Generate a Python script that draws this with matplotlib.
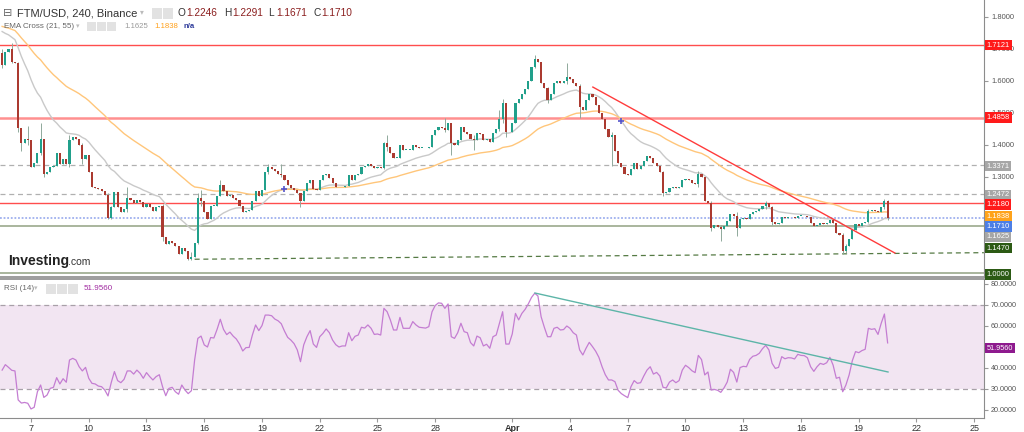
import numpy as np
import pandas as pd
import matplotlib
matplotlib.use('Agg')
import matplotlib.pyplot as plt
import matplotlib.dates as mdates
from matplotlib.patches import Rectangle
from matplotlib.ticker import FormatStrFormatter

plt.rcParams['font.family'] = ['Liberation Sans', 'DejaVu Sans']

# ---- data (4h candles, FTM/USD Binance) ----
start = '2022-03-05 12:00'
first_open = 1.688
closes = [
    1.650, 1.690, 1.700, 1.660, 1.655, 1.452, 1.405, 1.420, 1.415, 1.332,
    1.345, 1.375, 1.420, 1.310, 1.315, 1.330, 1.335, 1.375, 1.340, 1.355,
    1.340, 1.415, 1.425, 1.420, 1.400, 1.355, 1.370, 1.317, 1.270, 1.265,
    1.262, 1.255, 1.245, 1.172, 1.205, 1.254, 1.205, 1.190, 1.200, 1.235,
    1.228, 1.220, 1.228, 1.222, 1.205, 1.215, 1.205, 1.195, 1.205, 1.210,
    1.112, 1.090, 1.100, 1.095, 1.085, 1.060, 1.078, 1.068, 1.045, 1.050,
    1.095, 1.235, 1.225, 1.190, 1.170, 1.210, 1.210, 1.240, 1.275, 1.255,
    1.240, 1.245, 1.235, 1.228, 1.210, 1.190, 1.195, 1.197, 1.225, 1.255,
    1.240, 1.258, 1.315, 1.330, 1.325, 1.318, 1.310, 1.305, 1.290, 1.275,
    1.265, 1.260, 1.250, 1.225, 1.255, 1.280, 1.290, 1.262, 1.258, 1.290,
    1.305, 1.310, 1.297, 1.282, 1.270, 1.268, 1.270, 1.272, 1.305, 1.290,
    1.305, 1.310, 1.330, 1.335, 1.340, 1.335, 1.328, 1.330, 1.328, 1.405,
    1.395, 1.375, 1.360, 1.360, 1.400, 1.385, 1.385, 1.385, 1.400, 1.395,
    1.392, 1.392, 1.390, 1.393, 1.430, 1.447, 1.455, 1.453, 1.448, 1.470,
    1.405, 1.400, 1.415, 1.455, 1.440, 1.435, 1.420, 1.415, 1.437, 1.433,
    1.415, 1.418, 1.410, 1.437, 1.450, 1.480, 1.530, 1.440, 1.440, 1.470,
    1.530, 1.545, 1.560, 1.575, 1.600, 1.645, 1.668, 1.660, 1.595, 1.578,
    1.540, 1.560, 1.595, 1.600, 1.595, 1.600, 1.612, 1.605, 1.595, 1.585,
    1.520, 1.510, 1.540, 1.560, 1.550, 1.525, 1.500, 1.480, 1.450, 1.425,
    1.430, 1.380, 1.345, 1.330, 1.310, 1.305, 1.325, 1.345, 1.325, 1.335,
    1.350, 1.365, 1.360, 1.345, 1.335, 1.315, 1.250, 1.252, 1.265, 1.270,
    1.265, 1.270, 1.290, 1.295, 1.290, 1.282, 1.278, 1.310, 1.300, 1.225,
    1.220, 1.140, 1.150, 1.145, 1.138, 1.148, 1.162, 1.185, 1.178, 1.140,
    1.170, 1.172, 1.170, 1.185, 1.190, 1.195, 1.200, 1.210, 1.218, 1.205,
    1.160, 1.152, 1.155, 1.175, 1.172, 1.176, 1.174, 1.172, 1.178, 1.178,
    1.177, 1.175, 1.155, 1.147, 1.150, 1.155, 1.152, 1.157, 1.165, 1.155,
    1.125, 1.120, 1.070, 1.085, 1.105, 1.135, 1.152, 1.148, 1.155, 1.160,
    1.195, 1.198, 1.193, 1.190, 1.205, 1.2246, 1.1710,
]
# candles with visible wicks: index -> (high, low)
wicks = {
    0: (1.700, 1.640), 3: (1.720, 1.655), 5: (1.660, 1.440), 6: (1.450, 1.380),
    8: (1.460, 1.400), 12: (1.468, 1.370), 13: (1.420, 1.300), 21: (1.430, 1.330),
    25: (1.405, 1.340), 33: (1.250, 1.168), 34: (1.210, 1.168), 39: (1.270, 1.190),
    50: (1.215, 1.100), 58: (1.060, 1.040), 59: (1.065, 1.040), 61: (1.250, 1.090),
    62: (1.260, 1.210), 68: (1.290, 1.240), 83: (1.340, 1.310), 87: (1.340, 1.300),
    93: (1.250, 1.207), 119: (1.410, 1.325), 120: (1.430, 1.380), 138: (1.485, 1.440),
    140: (1.470, 1.370), 147: (1.430, 1.385), 155: (1.510, 1.445), 156: (1.545, 1.470),
    157: (1.530, 1.425), 166: (1.680, 1.640), 170: (1.580, 1.530), 176: (1.655, 1.590),
    180: (1.590, 1.484), 190: (1.440, 1.335), 206: (1.320, 1.240), 217: (1.320, 1.270),
    221: (1.225, 1.130), 224: (1.150, 1.100), 229: (1.190, 1.115), 238: (1.225, 1.200),
    240: (1.210, 1.150), 262: (1.125, 1.060), 263: (1.090, 1.062), 270: (1.200, 1.155),
    275: (1.232, 1.200), 276: (1.2291, 1.1671),
}
ema_seed = {21: 1.765, 55: 1.775}

rsi = [
    39.0, 41.6, 40.3, 38.9, 38.6, 24.8, 23.3, 23.6, 23.2, 20.5,
    21.3, 28.7, 31.9, 26.0, 27.1, 30.3, 30.8, 35.4, 32.4, 34.9,
    33.2, 43.8, 44.6, 43.8, 40.6, 38.6, 40.3, 35.1, 32.7, 32.4,
    31.4, 31.1, 29.5, 26.7, 33.0, 38.3, 34.0, 33.0, 34.6, 38.6,
    38.6, 37.1, 39.0, 37.5, 35.1, 37.8, 35.9, 34.3, 35.9, 36.8,
    31.1, 26.8, 30.3, 30.8, 28.7, 27.5, 31.9, 29.5, 27.8, 29.2,
    43.8, 54.1, 55.2, 51.0, 50.0, 54.5, 54.3, 58.4, 63.2, 58.4,
    55.9, 57.1, 55.2, 53.8, 51.4, 48.1, 49.7, 49.8, 55.7, 60.5,
    57.8, 60.2, 65.2, 65.2, 64.9, 63.3, 62.5, 61.1, 57.6, 54.6,
    53.3, 51.6, 48.6, 43.0, 51.0, 54.9, 57.8, 51.4, 49.8, 54.9,
    56.5, 58.6, 56.8, 53.3, 51.1, 50.0, 50.5, 50.5, 56.8, 53.0,
    55.1, 55.7, 59.4, 59.0, 60.5, 58.9, 56.0, 56.2, 55.7, 68.4,
    66.8, 62.9, 58.1, 58.1, 64.1, 58.9, 58.9, 58.9, 62.1, 60.5,
    59.4, 59.2, 59.0, 59.7, 66.8, 69.8, 71.0, 70.8, 68.4, 70.5,
    54.9, 54.1, 56.8, 61.3, 57.3, 56.8, 52.1, 50.5, 55.2, 54.4,
    50.5, 51.3, 49.4, 54.9, 55.7, 61.3, 66.8, 51.4, 51.4, 56.2,
    66.0, 62.9, 66.0, 67.9, 70.5, 73.6, 75.6, 74.3, 64.4, 59.4,
    54.9, 54.9, 58.9, 59.4, 58.1, 58.3, 60.0, 58.9, 56.8, 55.7,
    48.6, 46.2, 49.4, 52.2, 50.2, 48.0, 45.1, 40.6, 36.8, 34.3,
    34.3, 33.5, 29.4, 27.8, 26.8, 25.9, 31.1, 34.0, 32.7, 33.0,
    36.2, 39.0, 40.6, 37.1, 37.9, 36.2, 30.8, 30.5, 33.3, 34.3,
    33.0, 34.0, 39.0, 41.3, 40.2, 38.7, 37.8, 46.0, 44.0, 36.7,
    38.1, 29.5, 29.8, 29.4, 28.4, 30.5, 33.3, 39.4, 37.9, 33.3,
    40.2, 40.8, 40.6, 44.1, 45.6, 46.0, 47.0, 49.2, 50.8, 48.6,
    42.2, 39.8, 40.3, 45.4, 44.4, 44.9, 44.8, 44.3, 46.5, 46.0,
    45.9, 44.9, 40.6, 38.4, 40.6, 42.2, 41.7, 42.5, 45.1, 41.4,
    35.1, 35.6, 28.7, 31.9, 36.7, 43.5, 47.8, 47.3, 48.3, 48.9,
    58.9, 58.4, 58.7, 56.0, 61.3, 65.7, 51.956,
]

# horizontal levels drawn on the chart
resist_levels = [1.7121, 1.4858, 1.2180]
dashed_levels = [1.3371, 1.2472]
last_price = 1.1710
support_levels = [1.1470, 1.0000]
# trend lines (time, value)
low_line_t = ['2022-03-15 12:00', '2022-04-25 12:00']
low_line_p = [1.043, 1.0635]
down_line_t = ['2022-04-05 04:30', '2022-04-20 21:00']
down_line_p = [1.581, 1.0625]
rsi_line_t = ['2022-04-02 04:20', '2022-04-20 12:30']
rsi_line_v = [75.7, 38.1]

# right-hand price tags: text, position (price units), box colour
tags = [
    ('1.7121', 1.7121, '#ff1a1a'), ('1.4858', 1.4858, '#ff1a1a'),
    ('1.3371', 1.3340, '#a6a6a6'), ('1.2472', 1.2440, '#a6a6a6'),
    ('1.2180', 1.2150, '#ff1a1a'), ('1.1838', 1.1775, '#ffa31a'),
    ('1.1710', 1.1460, '#4d7fe6'), ('1.1625', 1.1125, '#a6a6a6'),
    ('1.1470', 1.0780, '#2c5a14'), ('1.0000', 0.9950, '#2c5a14'),
]
rsi_tag = ('51.9560', 49.5)
price_ticks = [1.3, 1.4, 1.5, 1.6, 1.7, 1.8]
rsi_ticks = [20, 30, 40, 60, 70, 80]

tick_dates = ['2022-03-07', '2022-03-10', '2022-03-13', '2022-03-16', '2022-03-19',
              '2022-03-22', '2022-03-25', '2022-03-28', '2022-04-01', '2022-04-04',
              '2022-04-07', '2022-04-10', '2022-04-13', '2022-04-16', '2022-04-19',
              '2022-04-22', '2022-04-25']
tick_labels = ['7', '10', '13', '16', '19', '22', '25', '28', 'Apr', '4', '7', '10',
               '13', '16', '19', '22', '25']


def ema(vals, n, seed):
    a = 2.0 / (n + 1)
    out, e = [], seed
    for v in vals:
        e = e + a * (v - e)
        out.append(e)
    return np.array(out)


W, H = 1024, 432
def fx(x):
    return x / W
def fy(y):
    return 1 - y / H

fig = plt.figure(figsize=(10.24, 4.32), dpi=100)
ax = fig.add_axes([0, fy(277), fx(984), 277 / H])
ar = fig.add_axes([0, fy(418), fx(984), (418 - 279) / H], sharex=ax)

t = mdates.date2num(pd.date_range(start, periods=len(closes), freq='4h'))
closes = np.array(closes)
opens = np.concatenate([[first_open], closes[:-1]])
highs = np.maximum(opens, closes)
lows = np.minimum(opens, closes)
for k, (hi, lo) in wicks.items():
    highs[k], lows[k] = hi, lo

up = closes >= opens
body_col = np.where(up, '#21a08b', '#ab3a30')
ax.vlines(t, lows, highs, color='#8fa99b', linewidth=0.7, zorder=4)
ax.bar(t, np.maximum(np.abs(closes - opens), 0.0018), width=0.11,
       bottom=np.minimum(opens, closes), color=body_col, linewidth=0, zorder=5)

e21 = ema(closes, 21, ema_seed[21])
e55 = ema(closes, 55, ema_seed[55])
ax.plot(t, e21, color='#c9c9c9', lw=1.0, zorder=3)
ax.plot(t, e55, color='#ffc67a', lw=1.0, zorder=3)
# EMA cross markers: first crossing of each cluster
cross = np.where(np.diff(np.sign(e21 - e55)) != 0)[0] + 1
marks = []
for c in cross:
    if not marks or c - marks[-1] > 20:
        marks.append(c)
marks = np.array(marks, dtype=int)
ax.plot(t[marks], e21[marks], '+', color='#5555cc', ms=4, mew=1.2, zorder=6)

# levels
for lv, col, lw in zip(resist_levels, ['#ff4d4d', '#ff9090', '#ff4d4d'], [1.0, 1.8, 1.0]):
    ax.axhline(lv, color=col, lw=lw, zorder=2)
for lv in dashed_levels:
    ax.axhline(lv, color='#b0b0b0', lw=0.9, ls=(0, (4, 3)), zorder=2)
ax.axhline(last_price, color='#9fb0ee', lw=1.3, ls=(0, (1, 1)), zorder=2)
for lv in support_levels:
    ax.axhline(lv, color='#a9b69d', lw=1.4, zorder=2)
ax.plot(mdates.date2num(pd.to_datetime(low_line_t)), low_line_p, color='#557a44',
        lw=0.9, ls=(0, (4, 3)), zorder=2)
ax.plot(mdates.date2num(pd.to_datetime(down_line_t)), down_line_p, color='#ff3b3b',
        lw=1.0, zorder=6)

x0 = mdates.date2num(pd.Timestamp('2022-03-07'))
ax.set_xlim(x0 - 31 / 19.25, x0 + (984 - 31) / 19.25)
ax.set_ylim(0.9875, 1.8531)
ax.set_yticks(price_ticks)
ax.yaxis.set_major_formatter(FormatStrFormatter('%.4f'))
ax.yaxis.tick_right()
ax.tick_params(axis='y', length=3, color='#999999', labelsize=5.4, labelcolor='#555555', pad=2)
ax.tick_params(axis='x', bottom=False, labelbottom=False)
for s in ['top', 'left']:
    ax.spines[s].set_visible(False)
ax.spines['right'].set_color('#8c8c8c')
ax.spines['bottom'].set_color('#8c8c8c')
ax.spines['bottom'].set_linewidth(1.2)

for txt, yv, col in tags:
    ax.text(1.0025, yv, txt, transform=ax.get_yaxis_transform(), ha='left', va='center',
            fontsize=5.4, color='white', zorder=10,
            bbox=dict(boxstyle='square,pad=0.25', fc=col, ec='none'))

# RSI panel
ar.axhspan(30, 70, color='#f2e5f2', lw=0, zorder=0)
for lv in (30, 70):
    ar.axhline(lv, color='#a8a0a8', lw=0.9, ls=(0, (4, 3)), zorder=1)
ar.plot(t, rsi, color='#c47dd2', lw=0.9, zorder=3)
ar.plot(mdates.date2num(pd.to_datetime(rsi_line_t)), rsi_line_v, color='#5db5a8',
        lw=1.0, zorder=4)
ar.set_ylim(16.19, 82.38)
ar.set_yticks(rsi_ticks)
ar.yaxis.set_major_formatter(FormatStrFormatter('%.4f'))
ar.yaxis.tick_right()
ar.tick_params(axis='y', length=3, color='#999999', labelsize=5.2, labelcolor='#555555', pad=2)
ar.set_xticks(mdates.date2num(pd.to_datetime(tick_dates)))
ar.set_xticklabels(tick_labels)
ar.tick_params(axis='x', length=3, color='#999999', labelsize=6.5, labelcolor='#333333', pad=1.5)
for lab in ar.get_xticklabels():
    if lab.get_text() == 'Apr':
        lab.set_fontweight('bold')
ar.spines['left'].set_visible(False)
for s in ['top', 'right', 'bottom']:
    ar.spines[s].set_color('#8c8c8c')
ar.spines['top'].set_linewidth(1.2)
ar.text(1.0025, rsi_tag[1], rsi_tag[0], transform=ar.get_yaxis_transform(), ha='left',
        va='center', fontsize=5.2, color='white', zorder=10,
        bbox=dict(boxstyle='square,pad=0.25', fc='#8e1a8e', ec='none'))

# header texts and icons
def box(x, y, w=9, h=10, fc='#e2e2e2'):
    fig.add_artist(Rectangle((fx(x), fy(y + h)), w / W, h / H, transform=fig.transFigure,
                             fc=fc, ec='none'))

fig.text(fx(3), fy(13), '\u229f', fontsize=8, color='#666666', va='center', family=['DejaVu Sans'])
fig.text(fx(17), fy(13), 'FTM/USD, 240, Binance', fontsize=8, color='#333333', va='center')
fig.text(fx(140), fy(12), '\u25be', fontsize=5.5, color='#bbbbbb', va='center', family=['DejaVu Sans'])
box(152, 8, 10, 11)
box(163, 8, 10, 11)
for letter, val, xp in zip('OHLC', ['1.2246', '1.2291', '1.1671', '1.1710'], [178, 224, 268, 313]):
    fig.text(fx(xp), fy(13), letter, fontsize=7.3, color='#333333', va='center')
    fig.text(fx(xp + 8), fy(13), val, fontsize=7.3, color='#8b1f1f', va='center')

fig.text(fx(4), fy(27), 'EMA Cross (21, 55)', fontsize=5.8, color='#666666', va='center')
fig.text(fx(76), fy(26.5), '\u25be', fontsize=5, color='#bbbbbb', va='center', family=['DejaVu Sans'])
for xb in (87, 97, 107):
    box(xb, 22, 9, 9)
fig.text(fx(124), fy(27), '1.1625', fontsize=5.6, color='#9a9a9a', va='center')
fig.text(fx(154), fy(27), '1.1838', fontsize=5.6, color='#ffa01a', va='center')
fig.text(fx(183), fy(27), 'n/a', fontsize=5.6, color='#2d3a9a', va='center', fontweight='bold')

fig.text(fx(4), fy(289), 'RSI (14)', fontsize=5.8, color='#666666', va='center')
fig.text(fx(34), fy(288.5), '\u25be', fontsize=5, color='#bbbbbb', va='center', family=['DejaVu Sans'])
for xb in (46, 57, 68):
    box(xb, 284, 10, 10)
fig.text(fx(84), fy(289), '51.9560', fontsize=5.8, color='#a02aa0', va='center')

fig.text(fx(8), fy(261), 'Investing', fontsize=10, color='#222222', va='center', fontweight='bold')
fig.text(fx(68), fy(262), '.com', fontsize=7.5, color='#333333', va='center')

fig.savefig('out.png', dpi=100)
